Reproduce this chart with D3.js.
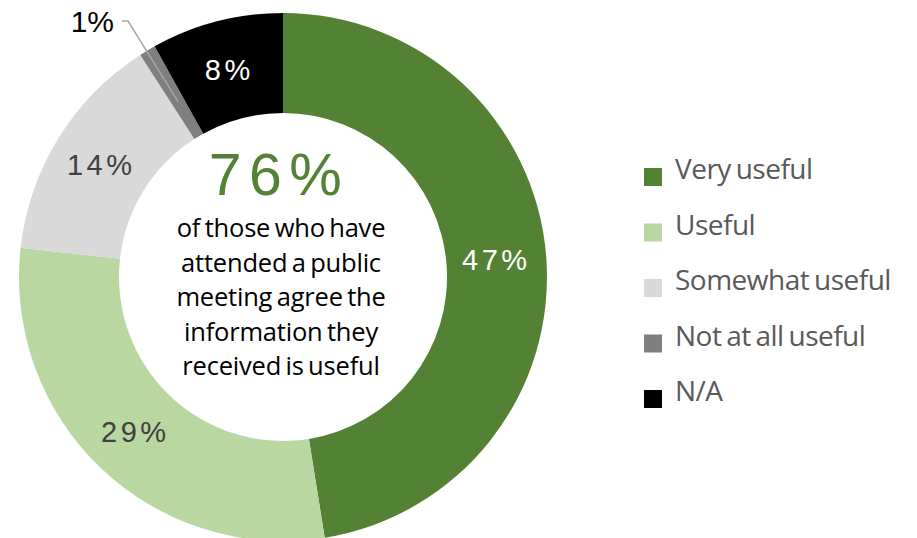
<!DOCTYPE html>
<html>
<head>
<meta charset="utf-8">
<script src="https://cdn.jsdelivr.net/npm/d3@7/dist/d3.min.js"></script>
<style>
  html, body { margin: 0; padding: 0; background: #fff; }
  svg { display: block; }
</style>
</head>
<body>
<svg id="chart" width="917" height="538"></svg>
<script>
// Survey responses: usefulness of information received at public meetings
const categories = ["Very useful", "Useful", "Somewhat useful", "Not at all useful", "N/A"];
const values = [47, 29, 14, 1, 8];
const colors = ["#548235", "#b8d7a1", "#d9d9d9", "#7f7f7f", "#000000"];
const labelColors = ["#ffffff", "#404040", "#404040", "#000000", "#ffffff"];
const headline = "76%";
const headlineLines = ["of those who have", "attended a public", "meeting agree the", "information they", "received is useful"];

const svg = d3.select("#chart");
const cx = 283, cy = 277, outerR = 264, innerR = 164;

const pie = d3.pie().sort(null).value(d => d.value);
const arcs = pie(categories.map((c, i) => ({ name: c, value: values[i], i })));
const arc = d3.arc().innerRadius(innerR).outerRadius(outerR);
const mid = d3.arc().innerRadius((innerR + outerR) / 2).outerRadius((innerR + outerR) / 2);

const g = svg.append("g").attr("transform", `translate(${cx},${cy})`);

g.selectAll("path.slice")
  .data(arcs)
  .join("path")
  .attr("class", "slice")
  .attr("d", arc)
  .attr("fill", d => colors[d.data.i]);

// Percentage labels placed at each slice's centroid (except the tiny slice)
const labelFont = "'Liberation Sans', Arial, sans-serif";
g.selectAll("text.pct")
  .data(arcs.filter(d => d.data.value > 2))
  .join("text")
  .attr("class", "pct")
  .attr("x", d => mid.centroid(d)[0])
  .attr("y", d => mid.centroid(d)[1])
  .attr("dy", "0.36em")
  .attr("text-anchor", "middle")
  .style("font-family", labelFont)
  .style("font-size", "29px")
  .style("letter-spacing", "3.5px")
  .attr("fill", d => labelColors[d.data.i])
  .text(d => d.data.value + "%");

// Tiny slice: outside label with leader line
const small = arcs.find(d => d.data.value <= 2);
if (small) {
  const a = (small.startAngle + small.endAngle) / 2;
  const r0 = outerR - 60;
  const p0 = [Math.sin(a) * r0, -Math.cos(a) * r0];
  const p1 = [-155, -cy + 21];
  const p2 = [-161, -cy + 21];
  g.append("polyline")
    .attr("points", [p0, p1, p2].map(p => p.join(",")).join(" "))
    .attr("fill", "none")
    .attr("stroke", "#a6a6a6")
    .attr("stroke-width", 1.5);
  g.append("text")
    .attr("x", p2[0] - 8)
    .attr("y", p2[1])
    .attr("dy", "0.36em")
    .attr("text-anchor", "end")
    .style("font-family", labelFont)
    .style("font-size", "30px")
    .attr("fill", labelColors[small.data.i])
    .text(small.data.value + "%");
}

// Centre headline
g.append("text")
  .attr("x", -4)
  .attr("y", -82)
  .attr("text-anchor", "middle")
  .style("font-family", labelFont)
  .style("font-size", "59px")
  .style("letter-spacing", "7.5px")
  .attr("fill", "#548235")
  .text(headline);

const condensed = "'Open Sans', 'Noto Sans', sans-serif";
const sub = g.append("g").attr("transform", "translate(-2,0)");
sub.selectAll("text")
  .data(headlineLines)
  .join("text")
  .attr("x", 0)
  .attr("y", (d, i) => -40 + i * 34.5)
  .attr("text-anchor", "middle")
  .style("font-family", condensed)
  .style("font-size", "25.5px")
  .style("letter-spacing", "-0.2px")
  .style("word-spacing", "-2px")
  .attr("fill", "#000")
  .text(d => d);

// Legend
const legend = svg.append("g").attr("transform", "translate(644,168)");
const rows = legend.selectAll("g.row")
  .data(categories)
  .join("g")
  .attr("class", "row")
  .attr("transform", (d, i) => `translate(0,${i * 55.5})`);
rows.append("rect")
  .attr("width", 18).attr("height", 18)
  .attr("fill", (d, i) => colors[i]);
const lt = rows.append("g").attr("transform", "translate(31,0)");
lt.append("text")
  .attr("x", 0).attr("y", 11)
  .style("font-family", condensed)
  .style("font-size", "28px")
  .style("letter-spacing", "-0.5px")
  .style("word-spacing", "-2px")
  .attr("fill", "#595959")
  .text(d => d);
</script>
</body>
</html>
